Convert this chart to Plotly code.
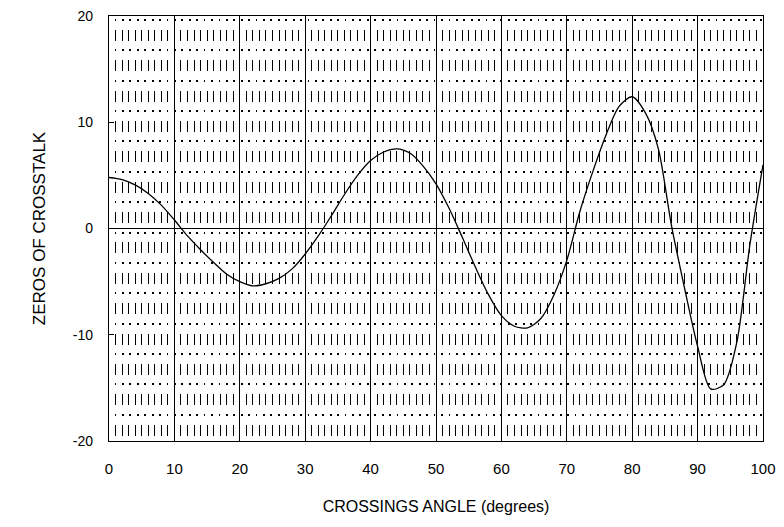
import plotly.graph_objects as go

angle = [0, 2, 4, 6, 8, 10, 12, 14, 16, 18, 20, 22, 24, 26, 28, 30, 32, 34, 36, 38,
         40, 42, 44, 46, 48, 50, 52, 54, 56, 58, 60, 62, 64, 66, 68, 70, 72, 74, 76,
         78, 80, 82, 84, 86, 88, 90, 92, 94, 96, 98, 100]
zeros = [4.8, 4.6, 4.1, 3.3, 2.2, 0.8, -0.7, -2.0, -3.2, -4.3, -5.0, -5.4, -5.2, -4.7,
         -3.8, -2.4, -0.7, 1.2, 3.2, 5.0, 6.4, 7.2, 7.5, 7.1, 5.9, 4.2, 1.9, -0.8, -3.6,
         -6.2, -8.2, -9.2, -9.35, -8.5, -6.3, -3.0, 1.6, 5.4, 8.8, 11.5, 12.4, 10.9, 7.5,
         0.3, -5.6, -11.1, -15.1, -14.7, -10.7, -1.5, 6.0]

x_ticks = [0, 10, 20, 30, 40, 50, 60, 70, 80, 90, 100]
y_ticks = [-20, -10, 0, 10, 20]

FONT = "Liberation Sans, Arial, sans-serif"

fig = go.Figure()
fig.add_trace(go.Scatter(
    x=angle, y=zeros, mode="lines",
    line=dict(color="black", width=1.3, shape="spline", smoothing=0.8),
    hoverinfo="skip", showlegend=False,
))

# helper axis for the horizontal dotted rows
fig.add_trace(go.Scatter(x=[0], y=[0], yaxis="y2", mode="markers",
                         marker=dict(opacity=0), hoverinfo="skip", showlegend=False))

# page body has an 8px margin, so the figure is offset by 8px
fig.update_layout(
    width=768, height=511,
    margin=dict(l=101, r=13, t=8, b=78, autoexpand=False),
    paper_bgcolor="white", plot_bgcolor="white",
    font=dict(family=FONT, color="black"),
    xaxis=dict(
        range=[0, 100], tickvals=x_ticks, ticktext=[str(v) for v in x_ticks],
        automargin=False, ticklabeloverflow="allow",
        showgrid=True, gridcolor="black", gridwidth=1,
        zeroline=False, showline=True, mirror=True, linecolor="black", linewidth=1.2,
        ticks="", tickfont=dict(size=15, family=FONT),
        ticklabelstandoff=14,
        minor=dict(dtick=1, tick0=0, showgrid=True, gridcolor="black", gridwidth=1.4,
                   griddash="0px,14px,11px,5.357px"),
        title=dict(text="CROSSINGS ANGLE (degrees)", font=dict(size=16, family=FONT),
                   standoff=24),
    ),
    yaxis=dict(
        range=[-20, 20], tickvals=y_ticks, ticktext=[str(v) for v in y_ticks],
        automargin=False, ticklabeloverflow="allow",
        showgrid=False, zeroline=True, zerolinecolor="black", zerolinewidth=1.2,
        showline=True, mirror=True, linecolor="black", linewidth=1.2,
        ticks="inside", ticklen=5, tickcolor="black", tickwidth=1,
        tickfont=dict(size=14, family=FONT), ticklabelstandoff=12,
        title=dict(text="ZEROS OF CROSSTALK", font=dict(size=17, family=FONT),
                   standoff=22),
    ),
    yaxis2=dict(
        range=[-20, 20], overlaying="y", side="right", automargin=False,
        tickmode="linear", tick0=19.62, dtick=40 / 14,
        showticklabels=False, ticks="", zeroline=False, showline=False,
        showgrid=True, gridcolor="black", gridwidth=1.5,
        griddash="0px,5.62px,1.8px,0px",
    ),
)

fig.write_html("out.html")
